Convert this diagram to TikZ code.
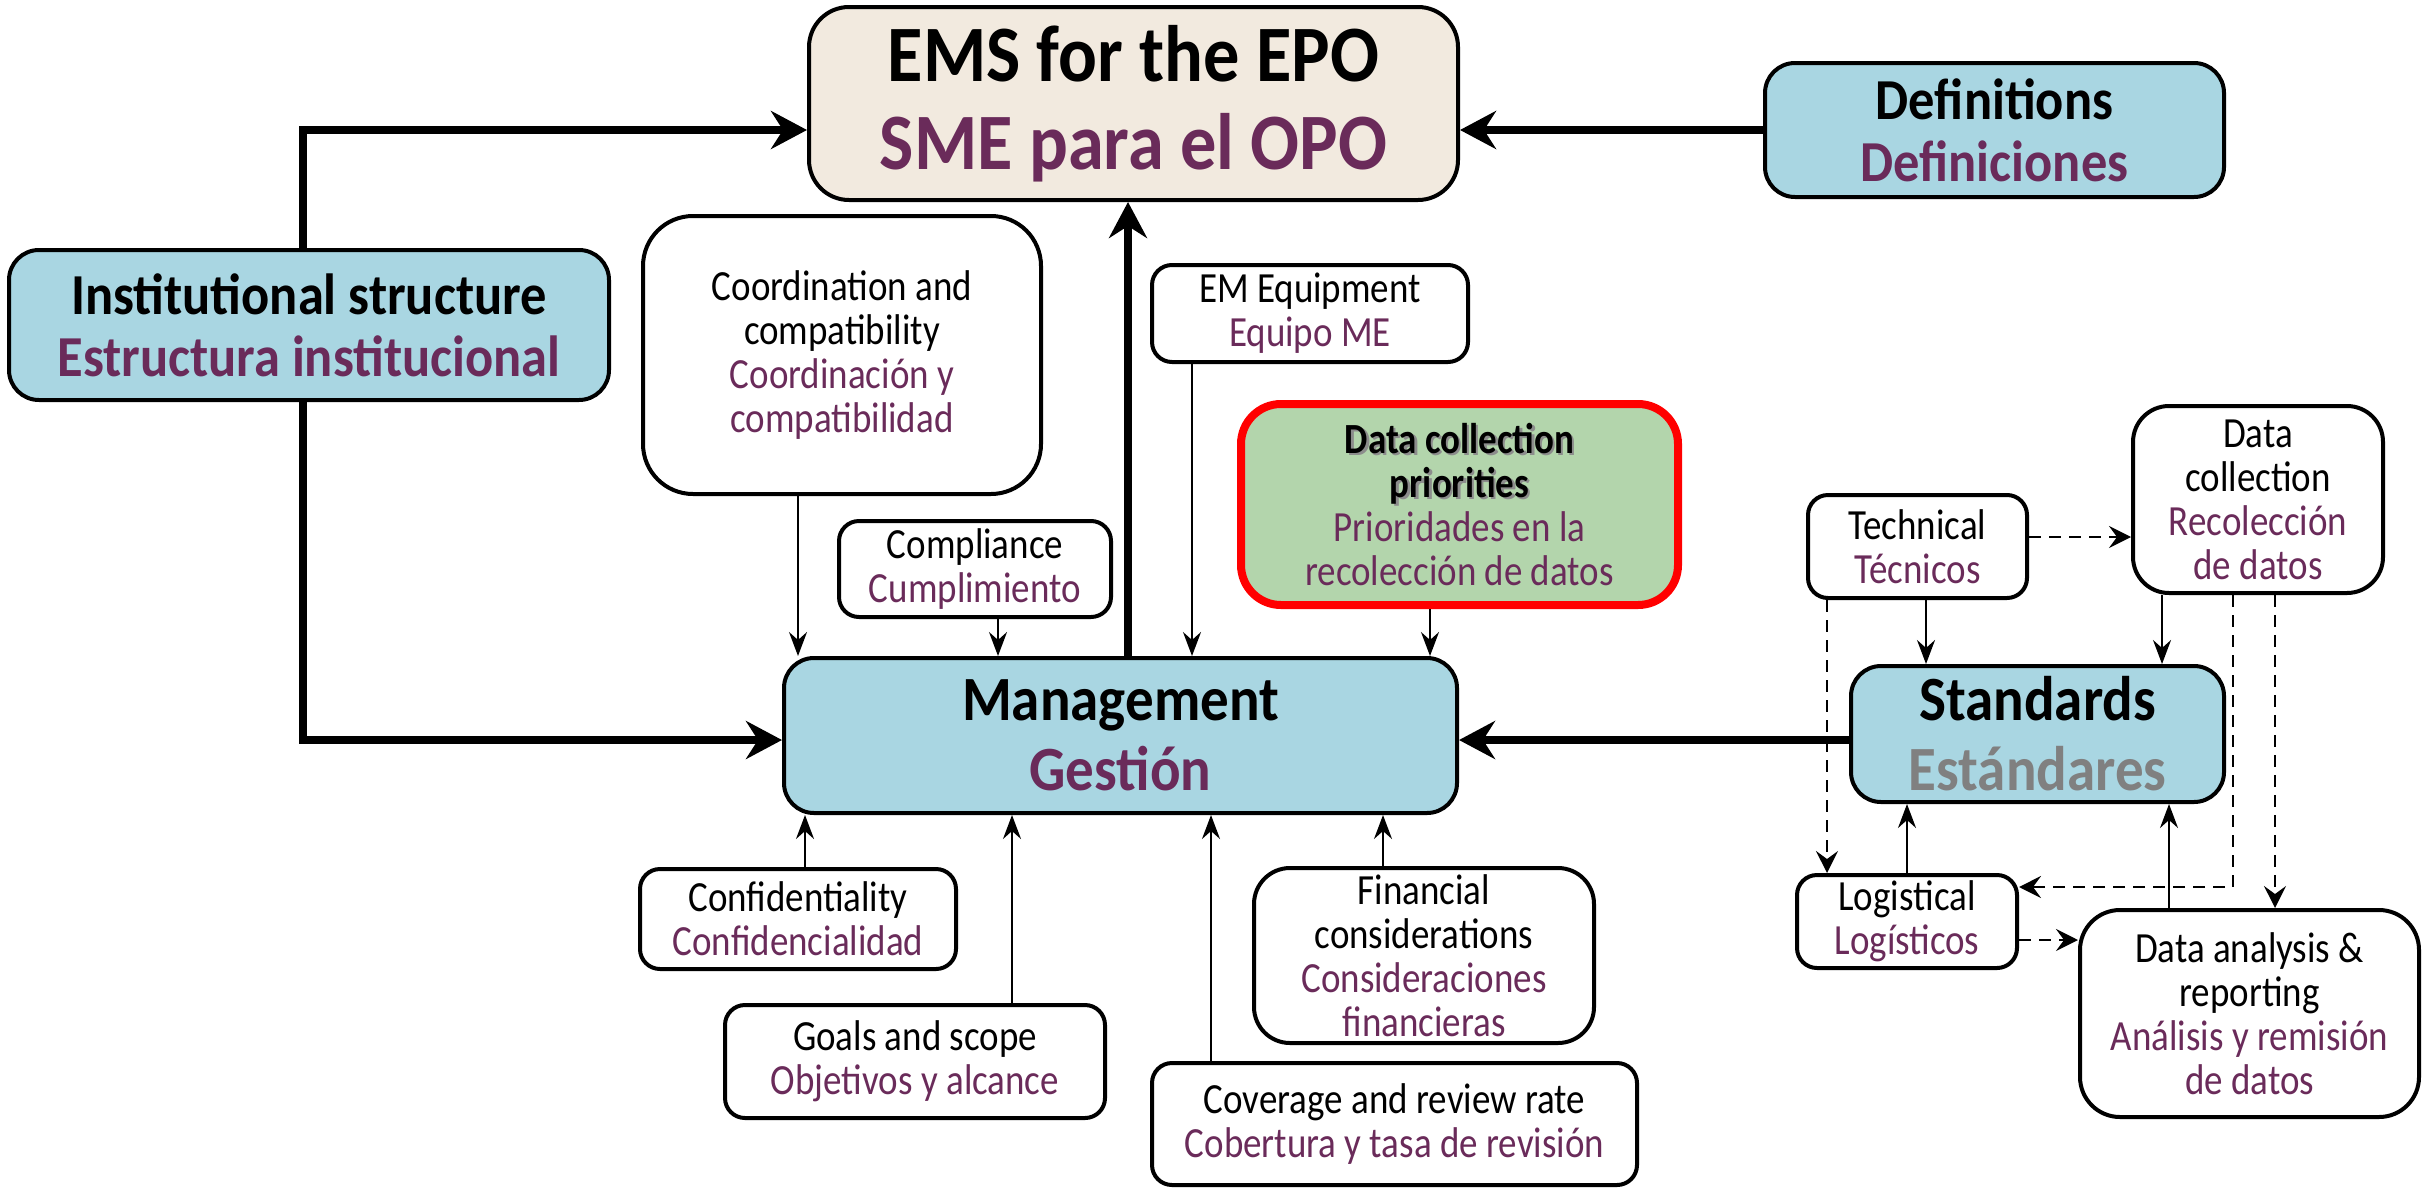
\documentclass[tikz,border=0pt]{standalone}
\usepackage{fontspec}
\setmainfont[FakeStretch=0.86]{Carlito}
\newfontfamily\titlef[FakeStretch=0.905]{Carlito}
\usetikzlibrary{arrows.meta,calc}
\definecolor{boxblue}{HTML}{A9D6E2}
\definecolor{beige}{HTML}{F2EADF}
\definecolor{dgreen}{HTML}{B3D5AC}
\definecolor{purp}{HTML}{6A2B5A}
\newcommand{\spn}[1]{\textcolor{purp}{#1}}
\newcommand{\shadowtxt}[1]{\leavevmode\rlap{\kern1.2pt\raisebox{-1.2pt}{\textcolor{black!45}{#1}}}#1}
\begin{document}
\begin{tikzpicture}[x=0.5pt,y=-0.5pt,
  wh/.style 2 args={minimum width=#1*0.5pt, minimum height=#2*0.5pt},
  box/.style={draw, line width=2pt, rounded corners=10pt, fill=white, align=center, inner sep=0pt,
    font={\fontsize{21.5}{22}\selectfont}},
  bluebox/.style={box, fill=boxblue, rounded corners=15pt, font={\titlef\bfseries\fontsize{29}{31}\selectfont}},
  thick arrow/.style={line width=4pt, -{Stealth[length=18pt,width=19pt,inset=6pt]}},
  thin arrow/.style={line width=1pt, -{Stealth[length=12pt,width=9pt,inset=4pt]}},
  dash arrow/.style={line width=1.4pt, dash pattern=on 6pt off 4pt, -{Stealth[length=11pt,width=11pt,inset=4pt]}}
]
\useasboundingbox (0,0) rectangle (2435,1189);

% nodes
\node[box, fill=beige, rounded corners=20pt, wh={649}{193}, font={\titlef\bfseries\fontsize{40}{44}\selectfont}] (ems) at (1133.5,103.5)
  {EMS for the EPO\\ \spn{SME para el OPO}};
\node[bluebox, wh={459}{134}] (defs) at (1994.5,130) {Definitions\\ \spn{Definiciones}};
\node[bluebox, wh={600}{150}] (inst) at (309,325) {Institutional structure\\ \spn{Estructura institucional}};
\node[box, rounded corners=25pt, wh={398}{278}] (coord) at (842,355)
  {Coordination and\\ compatibility\\ \spn{Coordinación y}\\ \spn{compatibilidad}};
\node[box, wh={316}{97}] (emeq) at (1310,313.5) {EM Equipment\\ \spn{Equipo ME}};
\node[box, wh={272}{96}] (compl) at (975,569) {Compliance\\ \spn{Cumplimiento}};
\node[bluebox, wh={673}{155}, font={\titlef\bfseries\fontsize{31.5}{35}\selectfont}] (mgmt) at (1120.5,735.5) {Management\\ \spn{Gestión}};
\node[box, draw=red, line width=4pt, fill=dgreen, rounded corners=20pt, wh={437}{201}] (dcp) at (1459.5,504.5)
  {\textbf{\shadowtxt{Data collection}}\\ \textbf{\shadowtxt{priorities}}\\ \spn{Prioridades en la}\\ \spn{recolección de datos}};
\node[box, wh={219}{103}] (tech) at (1917.5,546.5) {Technical\\ \spn{Técnicos}};
\node[box, rounded corners=18pt, wh={250}{187}] (dcoll) at (2258,499.5) {Data\\ collection\\ \spn{Recolección}\\ \spn{de datos}};
\node[bluebox, wh={373}{136}, font={\titlef\bfseries\fontsize{31.5}{35}\selectfont}] (std) at (2037.5,734) {Standards\\ \textcolor{gray}{Estándares}};
\node[box, wh={220}{93}] (logi) at (1907,921.5) {Logistical\\ \spn{Logísticos}};
\node[box, rounded corners=20pt, wh={339}{207}] (dana) at (2249.5,1013.5)
  {Data analysis \&\\ reporting\\ \spn{Análisis y remisión}\\ \spn{de datos}};
\node[box, rounded corners=18pt, wh={340}{175}] (fin) at (1424,955.5)
  {Financial\\ considerations\\ \spn{Consideraciones}\\ \spn{financieras}};
\node[box, wh={485}{122}] (cov) at (1394.5,1124) {Coverage and review rate\\ \spn{Cobertura y tasa de revisión}};
\node[box, wh={316}{100}] (conf) at (798,919) {Confidentiality\\ \spn{Confidencialidad}};
\node[box, wh={380}{113}] (goals) at (915,1061.5) {Goals and scope\\ \spn{Objetivos y alcance}};

% thick connectors
\draw[thick arrow] ([xshift=-3pt]inst.north) |- ([yshift=-13.25pt]ems.west);
\draw[thick arrow] ([xshift=-3pt]inst.south) |- ([yshift=-2.25pt]mgmt.west);
\draw[thick arrow] (defs.west) -- (defs.west -| ems.east);
\draw[thick arrow] ([xshift=3.75pt]mgmt.north) -- ([xshift=3.75pt]mgmt.north |- ems.south);
\draw[thick arrow] ([yshift=-3pt]std.west) -- ([yshift=-3pt]std.west -| mgmt.east);

% thin connectors into management
\draw[thin arrow] ([xshift=-22pt]coord.south) -- ([xshift=-22pt]coord.south |- mgmt.north);
\draw[thin arrow] ([xshift=11.5pt]compl.south) -- ([xshift=11.5pt]compl.south |- mgmt.north);
\draw[thin arrow] ([xshift=-59pt]emeq.south) -- ([xshift=-59pt]emeq.south |- mgmt.north);
\draw[thin arrow] ([xshift=-14.75pt]dcp.south) -- ([xshift=-14.75pt]dcp.south |- mgmt.north);
\draw[thin arrow] ([xshift=3.5pt]conf.north) -- ([xshift=3.5pt]conf.north |- mgmt.south);
\draw[thin arrow] ([xshift=48.5pt]goals.north) -- ([xshift=48.5pt]goals.north |- mgmt.south);
\draw[thin arrow] ([xshift=-91.75pt]cov.north) -- ([xshift=-91.75pt]cov.north |- mgmt.south);
\draw[thin arrow] ([xshift=-20.5pt]fin.north) -- ([xshift=-20.5pt]fin.north |- mgmt.south);

% standards cluster
\draw[thin arrow] ([xshift=4.25pt]tech.south) -- ([xshift=4.25pt]tech.south |- std.north);
\draw[thin arrow] ([xshift=-48pt]dcoll.south) -- ([xshift=-48pt]dcoll.south |- std.north);
\draw[thin arrow] (logi.north) -- (logi.north |- std.south);
\draw[thin arrow] ([xshift=-40.25pt]dana.north) -- ([xshift=-40.25pt]dana.north |- std.south);
\draw[dash arrow] ([yshift=4.75pt]tech.east) -- ([yshift=4.75pt]tech.east -| dcoll.west);
\draw[dash arrow, line width=1pt] ([xshift=-45.25pt]tech.south) -- ([xshift=-45.25pt]tech.south |- logi.north);
\draw[dash arrow] ([xshift=-12.5pt]dcoll.south) |- ([yshift=17.25pt]logi.east);
\draw[dash arrow, line width=1pt] ([xshift=8.5pt]dcoll.south) -- ([xshift=8.5pt]dcoll.south |- dana.north);
\draw[dash arrow] ([yshift=-9.25pt]logi.east) -- ([yshift=-9.25pt]logi.east -| dana.west);
\end{tikzpicture}
\end{document}
